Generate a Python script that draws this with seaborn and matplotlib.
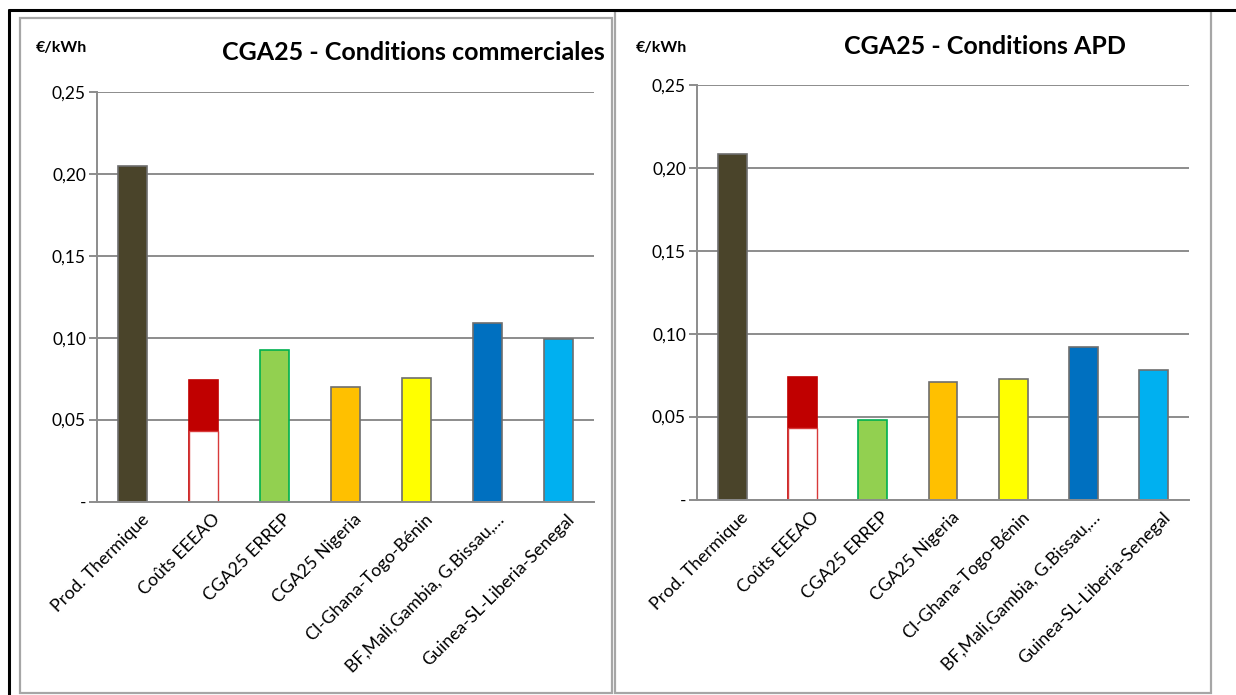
import matplotlib
matplotlib.use("Agg")
import matplotlib.pyplot as plt
import matplotlib.transforms as mtrans
from matplotlib.lines import Line2D
from matplotlib.patches import Rectangle
from matplotlib.ticker import FuncFormatter, FixedLocator
import seaborn as sns
import pandas as pd

# values (EUR/kWh)
categories = ["Prod. Thermique", "Coûts EEEAO", "CGA25 ERREP", "CGA25 Nigeria",
              "CI-Ghana-Togo-Bénin", "BF,Mali,Gambia, G.Bissau,…", "Guinea-SL-Liberia-Senegal"]
commercial = [0.2047, 0.0743, 0.0923, 0.0697, 0.0756, 0.1091, 0.0992]
apd = [0.2082, 0.0741, 0.0480, 0.0706, 0.0727, 0.0920, 0.0783]
eeeao_base = [0.0433]  # lower (white) part of the "Coûts EEEAO" bar
fill_colors = ["#4A442A", "#C00000", "#92D050", "#FFC000", "#FFFF00", "#0070C0", "#00B0F0"]
edge_colors = ["#6E6E6E", "#C00000", "#00B050", "#6E6E6E", "#6E6E6E", "#6E6E6E", "#6E6E6E"]

GRID = "#8C8C8C"
W, H = 1236, 695

sns.set_style("white")
plt.rcParams["font.family"] = ["Lato", "DejaVu Sans"]
plt.rcParams["text.color"] = "black"

fig = plt.figure(figsize=(W / 100, H / 100), dpi=100)


def fx(px):
    return px / W


def fy(px):
    return 1 - px / H


def yfmt(v, pos):
    if abs(v) < 1e-9:
        return "-"
    return f"{v:.2f}".replace(".", ",")


def draw_panel(ax, values, title, unit_x, title_x, title_y):
    df = pd.DataFrame({"cat": categories, "val": values})
    sns.barplot(data=df, x="cat", y="val", hue="cat", order=categories, hue_order=categories,
                palette=fill_colors, legend=False, width=0.41, linewidth=1.2,
                saturation=1, ax=ax)
    for p, ec in zip(ax.patches, edge_colors):
        p.set_edgecolor(ec)
    # white lower part of the EEEAO bar
    sns.barplot(x=[categories[1]], y=eeeao_base, order=categories, color="white",
                width=0.41, linewidth=1.0, edgecolor="#D83A3A", saturation=1, ax=ax)
    ax.set_xlim(-0.5, len(categories) - 0.5)
    ax.set_ylim(0, 0.25)
    ax.yaxis.set_major_locator(FixedLocator([0, 0.05, 0.10, 0.15, 0.20, 0.25]))
    ax.yaxis.set_major_formatter(FuncFormatter(yfmt))
    ax.yaxis.grid(True, color=GRID, lw=1.4)
    ax.set_axisbelow(True)
    ax.xaxis.set_minor_locator(FixedLocator([i - 0.5 for i in range(len(categories) + 1)]))
    ax.tick_params(axis="x", which="major", length=0, pad=7, labelsize=12.8, labelcolor="black")
    ax.tick_params(axis="x", which="minor", length=5, width=1.2, color=GRID, direction="out")
    ax.tick_params(axis="y", length=6, width=1.4, color=GRID, labelsize=12.5, pad=2,
                   direction="out", left=True, labelcolor="black")
    shift = mtrans.ScaledTranslation(8 / 100, 0, fig.dpi_scale_trans)
    for lab in ax.get_xticklabels():
        lab.set_rotation(45)
        lab.set_ha("right")
        lab.set_rotation_mode("anchor")
        lab.set_transform(lab.get_transform() + shift)
    ax.set_xlabel("")
    ax.set_ylabel("")
    sns.despine(ax=ax, top=True, right=True)
    for s in ("left", "bottom"):
        ax.spines[s].set_color(GRID)
        ax.spines[s].set_linewidth(1.4)
    fig.text(fx(unit_x), fy(48), "€/kWh", fontsize=11.5, fontweight="bold", va="center", ha="left")
    fig.text(fx(title_x), fy(title_y), title, fontsize=18, fontweight="bold",
             va="center", ha="center")


# panel frames and page border
fig.add_artist(Rectangle((fx(20), fy(693)), fx(612 - 20), (693 - 18) / H, transform=fig.transFigure,
                         fill=False, edgecolor="#A6A6A6", lw=1.6))
fig.add_artist(Rectangle((fx(615), fy(693)), fx(1211 - 615), (693 - 11) / H, transform=fig.transFigure,
                         fill=False, edgecolor="#A6A6A6", lw=1.6))
fig.add_artist(Line2D([fx(9), 1], [fy(10), fy(10)], transform=fig.transFigure, color="black", lw=2.2))
fig.add_artist(Line2D([fx(9), fx(9)], [0, fy(10)], transform=fig.transFigure, color="black", lw=2.2))

ax1 = fig.add_axes([fx(97), fy(501.5), fx(594 - 97), (501.5 - 92) / H])
ax2 = fig.add_axes([fx(697), fy(499.5), fx(1189 - 697), (499.5 - 85) / H])

draw_panel(ax1, commercial, "CGA25 - Conditions commerciales", 36, 413, 52)
draw_panel(ax2, apd, "CGA25 - Conditions APD", 636, 985, 46)

fig.savefig("out.png", dpi=100)
